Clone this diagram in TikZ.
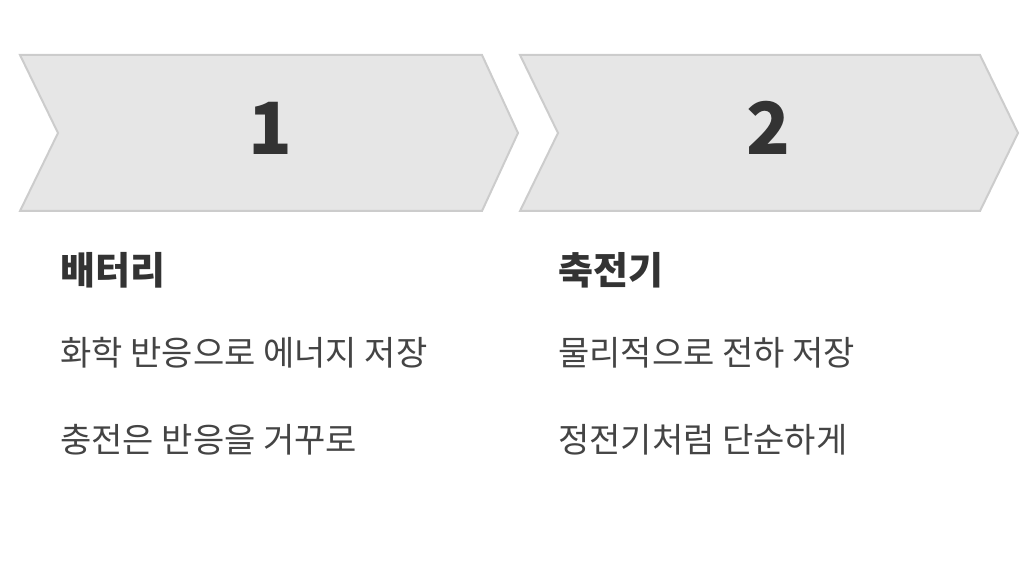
\documentclass[tikz,border=0pt]{standalone}
\usepackage{fontspec}
\setmainfont{Noto Sans CJK KR}
\definecolor{chev}{HTML}{E6E6E6}
\definecolor{chevline}{HTML}{CCCCCC}
\definecolor{txt}{HTML}{444444}
\definecolor{num}{HTML}{333333}
\begin{document}
\begin{tikzpicture}[x=0.5pt,y=-0.5pt,
  chevron/.style={fill=chev,draw=chevline,line width=1pt},
  numtxt/.style={font=\fontsize{36}{40}\selectfont\bfseries,text=num},
  title/.style={anchor=west,font=\fontsize{19}{22}\selectfont\bfseries,text=num,inner sep=0},
  body/.style={anchor=west,font=\fontsize{17}{20}\selectfont,text=txt,inner sep=0}]
\useasboundingbox (0,0) rectangle (1036,566);
\draw[chevron] (20,55) -- (482,55) -- (518,133) -- (482,211) -- (20,211) -- (58,133) -- cycle;
\draw[chevron] (520,55) -- (980,55) -- (1018,133) -- (980,211) -- (520,211) -- (558,133) -- cycle;
\node[numtxt] (n1) at (270,128) {1};
\node[numtxt] (n2) at (768,128) {2};
\node[title] (t1) at (60,270) {배터리};
\node[title] (t2) at (558,270) {축전기};
\node[body] (a1) at (60,353) {화학 반응으로 에너지 저장};
\node[body] (a2) at (60,440) {충전은 반응을 거꾸로};
\node[body] (b1) at (558,353) {물리적으로 전하 저장};
\node[body] (b2) at (558,440) {정전기처럼 단순하게};
\end{tikzpicture}
\end{document}
